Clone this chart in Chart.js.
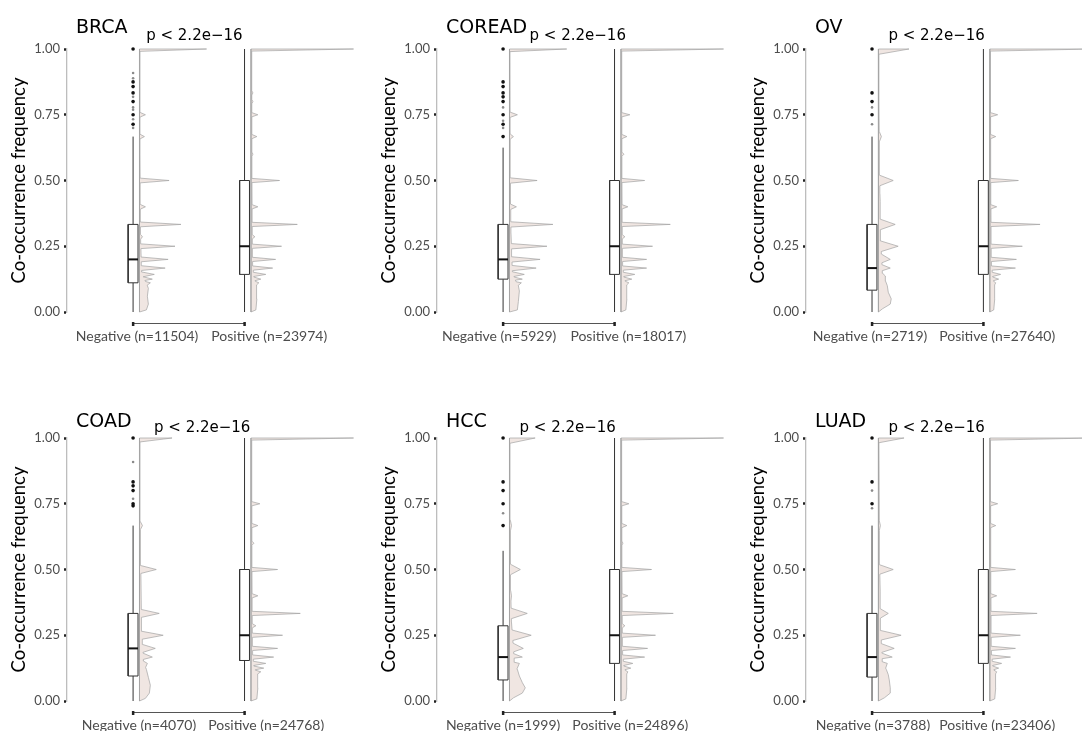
<!DOCTYPE html>
<html>
<head>
<meta charset="utf-8">
<script src="https://cdn.jsdelivr.net/npm/chart.js@4.4.1/dist/chart.umd.min.js"></script>
<style>
  html, body { margin: 0; padding: 0; background: #fff; overflow: hidden; }
  #wrap { position: relative; width: 1082px; height: 731px; }
  #wrap canvas { position: absolute; }
</style>
</head>
<body>
<div id="wrap"></div>
<script>
// ---- data ----
const cancers = ['BRCA', 'COREAD', 'OV', 'COAD', 'HCC', 'LUAD'];
const negN = [11504, 5929, 2719, 4070, 1999, 3788];
const posN = [23974, 18017, 27640, 24768, 24896, 23406];
const pText = 'p < 2.2e\u221216';
const pLabelX = [1.55, 1.67, 1.58, 1.62, 1.58, 1.58];
// the group labels sit a little right of their ticks in the figure (px)
const negLabelNudge = [4, -4, -2, 6, 0, 1];
const posLabelNudge = [25, 14, 14, 22, 16, 14];

// box stats: [lower whisker, Q1, median, Q3, upper whisker]
const negBox = [
  [0, 0.111, 0.2, 0.333, 0.667],
  [0, 0.125, 0.2, 0.333, 0.625],
  [0, 0.083, 0.167, 0.333, 0.667],
  [0, 0.095, 0.2, 0.333, 0.667],
  [0, 0.08, 0.167, 0.286, 0.571],
  [0, 0.091, 0.167, 0.333, 0.667]
];
const posBox = [
  [0, 0.143, 0.25, 0.5, 1],
  [0, 0.143, 0.25, 0.5, 1],
  [0, 0.143, 0.25, 0.5, 1],
  [0, 0.154, 0.25, 0.5, 1],
  [0, 0.143, 0.25, 0.5, 1],
  [0, 0.143, 0.25, 0.5, 1]
];

// outliers of the negative group (dark = heavy overplotting, faint = few points)
const negOutliers = [
  [1, 0.875, 0.857, 0.833, 0.8, 0.75, 0.714],
  [1, 0.875, 0.857, 0.833, 0.818, 0.8, 0.75, 0.714, 0.667],
  [1, 0.833, 0.8, 0.75],
  [1, 0.833, 0.818, 0.8, 0.75, 0.742],
  [1, 0.833, 0.8, 0.75, 0.667],
  [1, 0.833, 0.75]
];
const negOutliersFaint = [
  [0.909, 0.889, 0.818, 0.778, 0.769, 0.733, 0.7],
  [0.778, 0.727, 0.7],
  [0.778, 0.714],
  [0.909, 0.769],
  [0.714],
  [0.8, 0.733]
];

// half-violin densities: peaks [y, width] and smooth base profile [y, width]
const negPeaks = [
  [[1, 68], [0.75, 6], [0.667, 5], [0.5, 30], [0.4, 6], [0.333, 42], [0.286, 3], [0.25, 36], [0.2, 29], [0.167, 26], [0.143, 15], [0.125, 13], [0.111, 11]],
  [[1, 58], [0.75, 8], [0.667, 4], [0.5, 28], [0.4, 7], [0.333, 44], [0.25, 38], [0.2, 31], [0.167, 27], [0.143, 15], [0.125, 13], [0.111, 12]],
  [[1, 31], [0.667, 3], [0.5, 15], [0.4, 2], [0.333, 17], [0.25, 20], [0.2, 12], [0.167, 12], [0.137, 7]],
  [[1, 33], [0.667, 3], [0.5, 17], [0.333, 20], [0.25, 24], [0.2, 16], [0.167, 13], [0.143, 8]],
  [[1, 26], [0.667, 2], [0.5, 11], [0.4, 2], [0.333, 18], [0.25, 22], [0.2, 14], [0.167, 13], [0.143, 10]],
  [[1, 26], [0.667, 2], [0.5, 15], [0.4, 2], [0.333, 10], [0.25, 23], [0.2, 16], [0.167, 14], [0.143, 9]]
];
const negBase = [
  [[0, 0], [0.008, 7], [0.03, 9], [0.06, 8], [0.09, 9], [0.11, 7], [0.13, 4], [0.16, 2], [0.3, 1], [0.6, 0.5], [1, 0.5]],
  [[0, 0], [0.008, 8], [0.04, 9], [0.08, 10], [0.1, 9], [0.12, 6], [0.15, 3], [0.3, 1.5], [0.6, 0.7], [1, 0.5]],
  [[0, 0], [0.012, 4], [0.03, 12], [0.05, 13], [0.075, 10], [0.1, 9], [0.12, 7], [0.15, 4], [0.3, 2], [0.45, 1.5], [0.6, 1], [0.8, 0.5], [1, 0.5]],
  [[0, 0], [0.01, 6], [0.03, 10], [0.06, 11], [0.09, 9], [0.12, 7], [0.15, 4], [0.3, 2], [0.6, 1], [1, 0.5]],
  [[0, 0], [0.012, 4], [0.03, 13], [0.05, 16], [0.07, 13], [0.095, 10], [0.12, 8], [0.15, 5], [0.3, 2], [0.45, 1], [0.6, 1], [1, 0.5]],
  [[0, 0], [0.012, 6], [0.03, 12], [0.05, 12], [0.08, 11], [0.1, 10], [0.12, 8], [0.15, 4], [0.3, 2], [0.6, 1], [1, 0.5]]
];
const negBandwidth = [0.009, 0.01, 0.02, 0.015, 0.02, 0.018];

const posPeaks = [
  [[1, 104], [0.833, 2], [0.8, 2], [0.75, 7], [0.667, 6], [0.6, 2], [0.5, 29], [0.4, 7], [0.333, 47], [0.286, 4], [0.25, 31], [0.2, 25], [0.167, 22], [0.143, 15], [0.125, 10], [0.111, 8]],
  [[1, 104], [0.75, 9], [0.667, 6], [0.6, 3], [0.5, 24], [0.4, 7], [0.333, 50], [0.286, 4], [0.25, 32], [0.2, 26], [0.167, 26], [0.143, 14], [0.125, 11], [0.111, 8]],
  [[1, 104], [0.75, 8], [0.667, 6], [0.5, 29], [0.4, 7], [0.333, 51], [0.25, 33], [0.2, 27], [0.167, 26], [0.143, 11], [0.125, 9], [0.111, 6]],
  [[1, 104], [0.75, 9], [0.667, 7], [0.6, 3], [0.5, 27], [0.4, 7], [0.333, 50], [0.286, 5], [0.25, 32], [0.2, 27], [0.167, 23], [0.143, 15], [0.125, 13], [0.111, 10]],
  [[1, 104], [0.75, 8], [0.667, 6], [0.6, 2], [0.5, 31], [0.4, 7], [0.333, 53], [0.286, 4], [0.25, 35], [0.2, 27], [0.167, 24], [0.143, 12], [0.125, 10], [0.111, 7]],
  [[1, 104], [0.75, 8], [0.667, 6], [0.5, 26], [0.4, 7], [0.333, 48], [0.25, 31], [0.2, 26], [0.167, 21], [0.143, 12], [0.125, 9], [0.111, 7]]
];
const posBase = [
  [[0, 0], [0.008, 5], [0.05, 6], [0.09, 6], [0.11, 5], [0.13, 3], [0.2, 1.5], [0.5, 1], [1, 0.8]],
  [[0, 0], [0.008, 5], [0.05, 6], [0.1, 6], [0.13, 3], [0.2, 1.5], [0.5, 1], [1, 0.8]],
  [[0, 0], [0.008, 4], [0.05, 5], [0.1, 5], [0.13, 3], [0.2, 1.5], [0.5, 1], [1, 0.6]],
  [[0, 0], [0.008, 6], [0.05, 7], [0.1, 7], [0.13, 3], [0.2, 1.5], [0.5, 1], [1, 0.8]],
  [[0, 0], [0.008, 5], [0.05, 6], [0.1, 6], [0.13, 3], [0.2, 1.5], [0.5, 1], [1, 0.7]],
  [[0, 0], [0.008, 5], [0.05, 6], [0.1, 6], [0.13, 3], [0.2, 1.5], [0.5, 1], [1, 0.7]]
];
const posBandwidth = [0.008, 0.008, 0.008, 0.008, 0.008, 0.008];

// ---- layout / style ----
const PX_PER_GROUP = 113;          // pixels between the two groups
const AXIS_TO_FIRST = 67;          // pixels from y axis to first group
const BOX_HALF = 5 / PX_PER_GROUP;
const VIOLIN_GAP = 6.5 / PX_PER_GROUP;
const panelLeft = [0, 370, 739];
const rowTop = [0, 389];
const CANVAS_H = 360;
const VIOLIN_FILL = '#f0e6e2';
const VIOLIN_LINE = '#a3a3a3';

// linear lookup on the base profile (used only for the spike shoulders)
function baseAt(base, y) {
  for (let i = 1; i < base.length; i++) {
    if (y <= base[i][0]) {
      const [y0, w0] = base[i - 1], [y1, w1] = base[i];
      return w0 + (w1 - w0) * (y - y0) / (y1 - y0);
    }
  }
  return base[base.length - 1][1];
}

function violinShape(center, base, peaks, bw) {
  const inPeak = y => peaks.some(([py]) => Math.abs(y - py) < bw);
  const verts = base.filter(([y]) => y === 0 || !inPeak(y)).map(v => v.slice());
  peaks.forEach(([py, pw]) => {
    verts.push([py - bw, baseAt(base, py - bw)]);
    verts.push([py, pw]);
    if (py + bw <= 1) verts.push([py + bw, baseAt(base, py + bw)]);
  });
  verts.sort((a, b) => a[0] - b[0]);
  const x0 = center + VIOLIN_GAP;
  const pts = verts.map(([y, w]) => ({ x: x0 + w / PX_PER_GROUP, y }));
  pts.push({ x: x0, y: 1 }, { x: x0, y: 0 });
  return pts;
}

function lineSet(data, extra) {
  return Object.assign({
    type: 'line', data, showLine: true, pointRadius: 0, tension: 0,
    borderColor: '#333', borderWidth: 1, fill: false, clip: false
  }, extra);
}

function groupSets(center, box, base, peaks, bw) {
  const [lo, q1, med, q3, hi] = box;
  return [
    lineSet([{ x: center - BOX_HALF, y: med }, { x: center + BOX_HALF, y: med }],
      { borderColor: '#111', borderWidth: 2, order: 1 }),
    lineSet([
      { x: center - BOX_HALF, y: q1 }, { x: center + BOX_HALF, y: q1 },
      { x: center + BOX_HALF, y: q3 }, { x: center - BOX_HALF, y: q3 },
      { x: center - BOX_HALF, y: q1 }
    ], { fill: 'shape', backgroundColor: '#fff', order: 2 }),
    lineSet([{ x: center, y: lo }, { x: center, y: q1 }], { order: 3 }),
    lineSet([{ x: center, y: q3 }, { x: center, y: hi }], { order: 3 }),
    lineSet(violinShape(center, base, peaks, bw),
      { fill: 'shape', backgroundColor: VIOLIN_FILL, borderColor: VIOLIN_LINE, borderWidth: 0.7, order: 4 })
  ];
}

const panelDecor = {
  id: 'panelDecor',
  afterDraw(chart, args, opts) {
    const { ctx, chartArea, scales: { x } } = chart;
    ctx.save();
    const yLine = chartArea.bottom + 11;
    const x1 = x.getPixelForValue(1), x2 = x.getPixelForValue(2);
    ctx.strokeStyle = '#555';
    ctx.lineWidth = 1;
    ctx.beginPath();
    ctx.moveTo(x1, yLine + 0.5);
    ctx.lineTo(x2, yLine + 0.5);
    ctx.stroke();
    ctx.fillStyle = '#222';
    [x1, x2].forEach(px => ctx.fillRect(px - 1.2, yLine - 1, 2.5, 4));

    ctx.fillStyle = '#000';
    ctx.textBaseline = 'alphabetic';
    ctx.textAlign = 'left';
    ctx.font = '19px "DejaVu Sans"';
    ctx.fillText(opts.title, chartArea.left + 9, chartArea.top - opts.titleGap);
    ctx.textAlign = 'center';
    ctx.font = '15px "DejaVu Sans"';
    ctx.fillText(pText, x.getPixelForValue(opts.pX), chartArea.top - opts.pGap);
    ctx.restore();
  }
};

const wrap = document.getElementById('wrap');

cancers.forEach((name, i) => {
  const row = Math.floor(i / 3), col = i % 3;
  const left = panelLeft[col];
  const width = Math.min(360, 1082 - left);
  const canvas = document.createElement('canvas');
  canvas.width = width;
  canvas.height = CANVAS_H;
  canvas.style.left = left + 'px';
  canvas.style.top = rowTop[row] + 'px';
  canvas.style.width = width + 'px';
  canvas.style.height = CANVAS_H + 'px';
  wrap.appendChild(canvas);

  const xMin = 1 - AXIS_TO_FIRST / PX_PER_GROUP;
  const xMax = xMin + (width - AXIS_TO_FIRST) / PX_PER_GROUP;
  const labels = ['Negative (n=' + negN[i] + ')', 'Positive (n=' + posN[i] + ')'];
  const labelAt = [1 + negLabelNudge[i] / PX_PER_GROUP, 2 + posLabelNudge[i] / PX_PER_GROUP];

  const datasets = [
    lineSet(negOutliers[i].map(v => ({ x: 1, y: v })),
      { showLine: false, pointRadius: 1.8, pointBackgroundColor: '#111', pointBorderWidth: 0, order: 0 }),
    lineSet(negOutliersFaint[i].map(v => ({ x: 1, y: v })),
      { showLine: false, pointRadius: 1.3, pointBackgroundColor: '#8a8a8a', pointBorderWidth: 0, order: 0 }),
    ...groupSets(1, negBox[i], negBase[i], negPeaks[i], negBandwidth[i]),
    ...groupSets(2, posBox[i], posBase[i], posPeaks[i], posBandwidth[i])
  ];

  new Chart(canvas, {
    type: 'line',
    data: { datasets },
    plugins: [panelDecor],
    options: {
      responsive: false,
      animation: false,
      events: [],
      layout: { padding: { top: 49, bottom: 8, left: 0, right: 0 } },
      plugins: {
        legend: { display: false },
        tooltip: { enabled: false },
        panelDecor: { title: name, pX: pLabelX[i], titleGap: row ? 11 : 16, pGap: row ? 6 : 9 }
      },
      scales: {
        x: {
          type: 'linear', min: xMin, max: xMax,
          afterBuildTicks: s => { s.ticks = labelAt.map(v => ({ value: v })); },
          afterFit: s => { s.height = 40; },
          grid: { display: false, drawTicks: false },
          border: { display: false },
          ticks: {
            autoSkip: false, maxRotation: 0, padding: 16,
            color: '#4d4d4d', font: { family: 'Lato', size: 14 },
            callback: (v, idx) => labels[idx]
          }
        },
        y: {
          min: 0, max: 1,
          afterFit: s => { s.width = AXIS_TO_FIRST; },
          ticks: {
            stepSize: 0.25, padding: 4,
            color: '#4d4d4d', font: { family: 'Lato', size: 13 },
            callback: v => v.toFixed(2)
          },
          grid: { display: true, drawOnChartArea: false, drawTicks: true, tickLength: 3, tickWidth: 2.5, tickColor: '#222' },
          border: { display: true, color: '#bdbdbd', width: 1.3 },
          title: {
            display: true, text: 'Co-occurrence frequency', color: '#000',
            font: { family: 'Lato', size: 18.5 }, padding: { top: 8, bottom: 0 }
          }
        }
      }
    }
  });
});
</script>
</body>
</html>
